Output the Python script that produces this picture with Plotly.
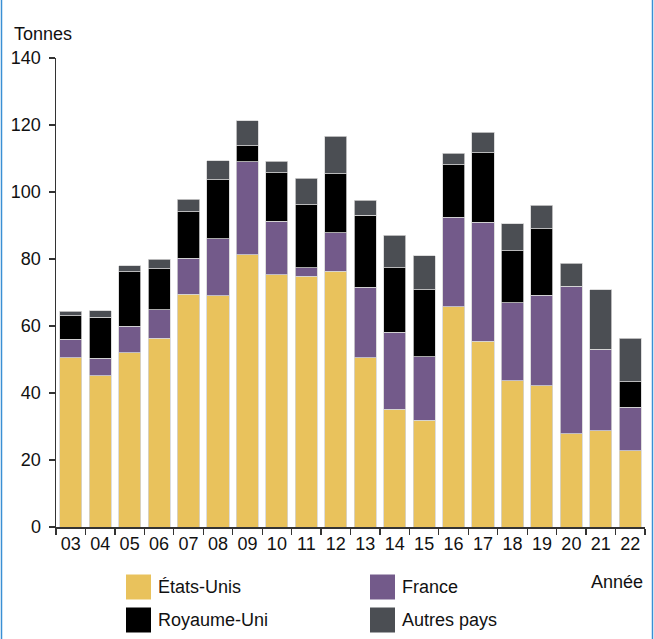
import plotly.graph_objects as go

years = ["03", "04", "05", "06", "07", "08", "09", "10", "11", "12",
         "13", "14", "15", "16", "17", "18", "19", "20", "21", "22"]
etats_unis = [50.5, 45.1, 52.0, 56.4, 69.5, 69.0, 81.3, 75.3, 74.9, 76.4,
              50.5, 35.1, 31.9, 65.7, 55.5, 43.6, 42.2, 27.9, 28.7, 22.8]
france = [5.6, 5.3, 8.0, 8.4, 10.8, 17.0, 27.7, 16.0, 2.5, 11.5,
          21.1, 23.0, 18.9, 26.7, 35.5, 23.4, 27.0, 44.0, 24.3, 13.0]
royaume_uni = [7.0, 12.2, 16.2, 12.3, 13.8, 17.7, 4.8, 14.5, 18.8, 17.6,
               21.5, 19.3, 20.0, 15.7, 20.7, 15.5, 19.8, 0.0, 0.0, 7.5]
autres = [1.3, 1.9, 1.8, 2.8, 3.7, 5.6, 7.4, 3.4, 7.9, 11.1,
          4.5, 9.7, 10.1, 3.4, 6.1, 8.0, 7.1, 6.8, 17.8, 13.0]

series = [
    ("États-Unis", etats_unis, "#E9C25C"),
    ("France", france, "#735A8A"),
    ("Royaume-Uni", royaume_uni, "#000000"),
    ("Autres pays", autres, "#4B4E53"),
]

FONT = "Liberation Sans, Arial, sans-serif"
FS = 18
W, H = 654, 639
L, R, T, B = 56, 9, 58, 112
PW, PH = W - L - R, H - T - B


def px(x):
    return (x - L) / PW


def py(y):
    return (H - B - y) / PH


fig = go.Figure()
for name, vals, col in series:
    fig.add_trace(go.Bar(
        x=years, y=vals, name=name,
        marker=dict(color=col, line=dict(color="#d4d4d4", width=0.8)),
        showlegend=False,
    ))

shapes = []
annotations = []
# manual legend
legend_items = [
    ("États-Unis", "#E9C25C", 126, 587),
    ("France", "#735A8A", 370, 587),
    ("Royaume-Uni", "#000000", 126, 620),
    ("Autres pays", "#4B4E53", 370, 620),
]
for name, col, x0, yc in legend_items:
    shapes.append(dict(type="rect", xref="paper", yref="paper",
                       x0=px(x0), x1=px(x0 + 25), y0=py(yc - 12.5), y1=py(yc + 12.5),
                       fillcolor=col, line=dict(width=0)))
    annotations.append(dict(text=name, xref="paper", yref="paper",
                            x=px(x0 + 30), y=py(yc), xanchor="left", yanchor="middle",
                            showarrow=False, font=dict(family=FONT, size=FS, color="#111")))

annotations.append(dict(text="Tonnes", xref="paper", yref="paper",
                        x=px(12), y=py(34), xanchor="left", yanchor="middle",
                        showarrow=False, font=dict(family=FONT, size=FS, color="#111")))
annotations.append(dict(text="Année", xref="paper", yref="paper",
                        x=px(645), y=py(582), xanchor="right", yanchor="middle",
                        showarrow=False, font=dict(family=FONT, size=FS, color="#111")))

# blue frame lines left and right
for xx in (1.5, 652.5):
    shapes.append(dict(type="line", xref="paper", yref="paper",
                       x0=px(xx), x1=px(xx), y0=py(0), y1=py(H),
                       line=dict(color="#3A8FD4", width=1.5)))

fig.update_layout(
    barmode="stack",
    bargap=0.25,
    width=W, height=H,
    margin=dict(l=L, r=R, t=T, b=B, pad=0, autoexpand=False),
    paper_bgcolor="white", plot_bgcolor="white",
    font=dict(family=FONT, size=FS, color="#111"),
    shapes=shapes,
    annotations=annotations,
    xaxis=dict(type="category", tickson="boundaries", ticks="outside", ticklen=6,
               tickwidth=1.2, tickcolor="#333", showline=True, linecolor="#333",
               linewidth=1.5, showgrid=False, zeroline=False, automargin=False,
               tickangle=0,
               tickfont=dict(family=FONT, size=FS, color="#111"), fixedrange=True),
    yaxis=dict(range=[0, 140], tickvals=[0, 20, 40, 60, 80, 100, 120, 140],
               ticks="outside", ticklen=6, tickwidth=1.2, tickcolor="#333",
               showline=True, linecolor="#333", linewidth=1.5, showgrid=False,
               zeroline=False, ticklabelstandoff=4, automargin=False,
               tickfont=dict(family=FONT, size=FS, color="#111")),
)

fig.write_html(
    "out.html",
    config={"displayModeBar": False, "staticPlot": True},
    post_script="document.body.style.margin='0';document.body.style.overflow='hidden';",
)
